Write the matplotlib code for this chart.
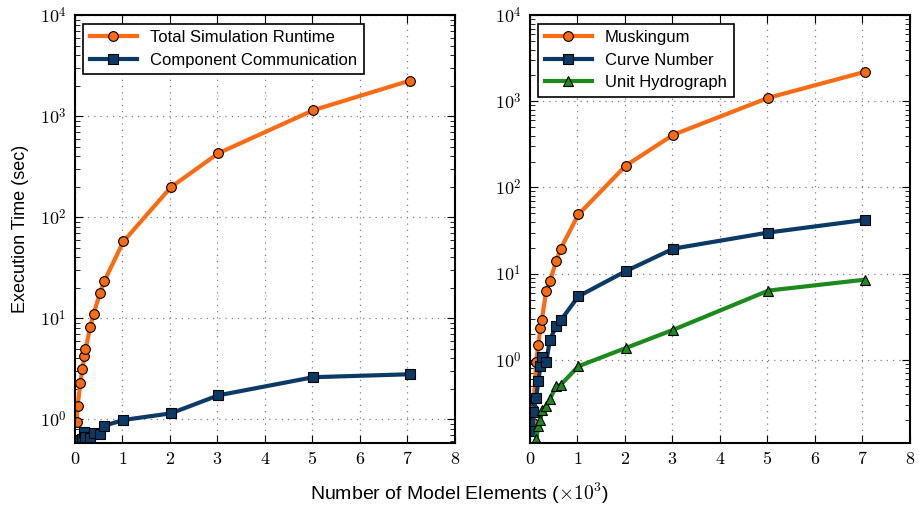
import math
import matplotlib
matplotlib.use("Agg")
import matplotlib.pyplot as plt
from matplotlib.ticker import FuncFormatter, LogLocator, MultipleLocator

plt.rcParams["font.family"] = ["Liberation Sans", "DejaVu Sans"]
plt.rcParams["mathtext.fontset"] = "cm"

# left panel: whole simulation vs communication
total_x = [0.035, 0.056, 0.11, 0.155, 0.2, 0.22, 0.32, 0.39, 0.53, 0.62, 1.02, 2.02, 3.02, 5.02, 7.05]
total_y = [0.94, 1.35, 2.26, 3.13, 4.2, 4.9, 8.1, 11.0, 17.8, 23.4, 57.5, 198, 430, 1147, 2250]
comm_x = [0.035, 0.056, 0.11, 0.155, 0.2, 0.22, 0.32, 0.39, 0.53, 0.62, 1.02, 2.02, 3.02, 5.02, 7.05]
comm_y = [0.60, 0.61, 0.62, 0.63, 0.75, 0.66, 0.65, 0.73, 0.71, 0.86, 0.98, 1.14, 1.72, 2.6, 2.78]

# right panel: per-component runtimes
comp_x = [0.06, 0.07, 0.13, 0.175, 0.22, 0.25, 0.34, 0.42, 0.55, 0.645, 1.02, 2.02, 3.02, 5.02, 7.05]
musk_y = [0.185, 0.27, 0.93, 1.49, 2.34, 2.92, 6.2, 8.1, 13.9, 19.4, 48.6, 180, 410, 1100, 2200]
curve_y = [0.15, 0.25, 0.36, 0.56, 0.84, 1.07, 0.93, 1.71, 2.44, 2.86, 5.45, 10.7, 19.5, 30, 42]
unit_y = [0.06, 0.08, 0.12, 0.17, 0.197, 0.26, 0.29, 0.35, 0.49, 0.51, 0.84, 1.37, 2.23, 6.35, 8.5]

orange = "#fa6b14"
blue = "#0c3a66"
green = "#1c8a1c"

fig = plt.figure(figsize=(9.19, 5.08), dpi=100)
ax1 = fig.add_axes([0.0816, 0.128, 0.4134, 0.842])
ax2 = fig.add_axes([0.5767, 0.128, 0.4134, 0.842])

style = dict(linewidth=3, markersize=7, markeredgecolor="black", markeredgewidth=0.8)
ax1.plot(total_x, total_y, "o-", color=orange, markerfacecolor=orange, label="Total Simulation Runtime", **style)
ax1.plot(comm_x, comm_y, "s-", color=blue, markerfacecolor=blue, label="Component Communication", **style)

ax2.plot(comp_x, musk_y, "o-", color=orange, markerfacecolor=orange, label="Muskingum", **style)
ax2.plot(comp_x, curve_y, "s-", color=blue, markerfacecolor=blue, label="Curve Number", **style)
ax2.plot(comp_x, unit_y, "^-", color=green, markerfacecolor=green, label="Unit Hydrograph", **style)

ax1.set_ylim(0.58, 1e4)
ax2.set_ylim(0.108, 1e4)

for ax in (ax1, ax2):
    ax.set_yscale("log")
    ax.set_xlim(0, 8)
    ax.xaxis.set_major_locator(MultipleLocator(1))
    ax.yaxis.set_major_locator(LogLocator(base=10, numticks=10))
    ax.yaxis.set_major_formatter(FuncFormatter(lambda v, p: r"$10^{%d}$" % round(math.log10(v))))
    ax.xaxis.set_major_formatter(FuncFormatter(lambda v, p: r"$%d$" % v))
    ax.tick_params(which="both", direction="in", top=True, right=True, labelsize=13)
    ax.tick_params(which="major", length=6, width=0.8, pad=6)
    ax.tick_params(which="minor", length=3.5, width=0.6)
    ax.grid(True, which="major", linestyle=(0, (1, 4)), color="gray", linewidth=0.9)
    for s in ax.spines.values():
        s.set_linewidth(1.5)
    leg = ax.legend(loc="upper left", fontsize=12, fancybox=False, framealpha=1,
                    handlelength=2.8, borderpad=0.4, labelspacing=0.45)
    leg.get_frame().set_edgecolor("black")
    leg.get_frame().set_linewidth(1.2)

ax1.set_ylabel("Execution Time (sec)", fontsize=13, labelpad=8)
fig.text(0.5, 0.015, r"Number of Model Elements ($\times 10^3$)", ha="center", fontsize=14)

fig.savefig("out.png", dpi=100)
